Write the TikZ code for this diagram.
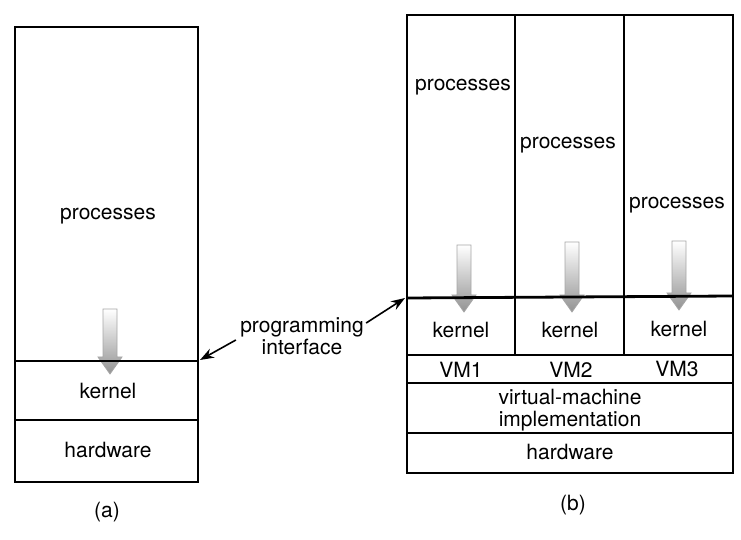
\documentclass[tikz,border=0pt]{standalone}
\usepackage{fontspec}
\setmainfont{TeX Gyre Heros}
\usepackage{tikz}
\usetikzlibrary{arrows.meta,positioning,calc}

% shaded down arrow: x, top y, tip y (picture units)
\newcommand{\callarrow}[3]{%
  \shade[top color=white, bottom color=gray!85, draw=gray!70, line width=0.4pt]
    (#1-7,#2) -- (#1+7,#2) -- (#1+7,#3-17) -- (#1+12,#3-17) -- (#1,#3)
    -- (#1-12,#3-17) -- (#1-7,#3-17) -- cycle;}

\begin{document}
\begin{tikzpicture}[
x=0.5pt, y=-0.5pt,
box/.style={draw, line width=0.7pt},
iface/.style={line width=1.4pt},
lbl/.style={font=\fontsize{10.5}{11}\selectfont, inner sep=1pt},
pointer/.style={-{Stealth[length=7pt,width=5pt]}, line width=0.8pt}
]
\useasboundingbox (0,0) rectangle (741,540);

% (a) ordinary machine
\draw[box] (15,27) rectangle (198,482);
\draw[box] (15,420) -- (198,420);
\node[lbl] (procA) at (108,216) {processes};
\callarrow{110}{309}{374}
\draw[iface, line width=1pt] (15,361) -- (198,361);
\node[lbl] (kernA) at (108,391) {kernel};
\node[lbl] (hwA) at (108,450) {hardware};
\node[lbl] (capA) at (107,512) {(a)};

% (b) virtual machines
\draw[box] (407,15) rectangle (733,473);
\draw[box] (515,15) -- (515,355);
\draw[box] (624,15) -- (624,355);
\draw[box] (407,355) -- (733,355);
\draw[box] (407,383) -- (733,383);
\draw[box] (407,433) -- (733,433);
\node[lbl] (procB1) at (463,87) {processes};
\node[lbl] (procB2) at (568,145) {processes};
\node[lbl] (procB3) at (677,205) {processes};
\callarrow{464}{245}{312}
\callarrow{572}{242}{312}
\callarrow{679}{241}{310}
\draw[iface] (407,298) -- (733,296);
\node[lbl] (kernB1) at (461,330) {kernel};
\node[lbl] (kernB2) at (570,330) {kernel};
\node[lbl] (kernB3) at (679,329) {kernel};
\node[lbl] (vm1) at (461,370) {VM1};
\node[lbl] (vm2) at (571,370) {VM2};
\node[lbl] (vm3) at (677,369) {VM3};
\node[lbl, align=center] (vmimpl) at (570,410) {virtual-machine\\implementation};
\node[lbl] (hwB) at (570,452) {hardware};
\node[lbl] (capB) at (573,505) {(b)};

% programming interface
\node[lbl, align=center] (api) at (302,336) {programming\\interface};
\coordinate (apiA) at (200,360);
\coordinate (apiB) at (405,298);
\draw[pointer] ([xshift=-1pt,yshift=-2pt]api.west) -- (apiA);
\draw[pointer] ([yshift=-4pt]api.north east) -- (apiB);
\end{tikzpicture}
\end{document}
